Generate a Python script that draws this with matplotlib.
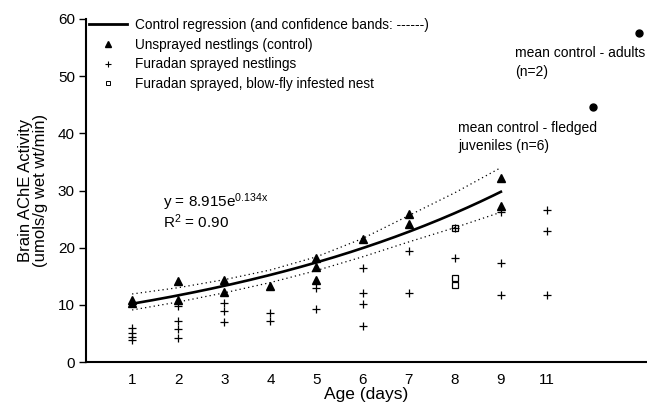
import numpy as np
import matplotlib
matplotlib.use("Agg")
import matplotlib.pyplot as plt
from matplotlib.lines import Line2D

plt.rcParams['font.family'] = ['Liberation Sans', 'DejaVu Sans']
plt.rcParams['mathtext.fontset'] = 'custom'
plt.rcParams['mathtext.rm'] = 'Liberation Sans'
plt.rcParams['mathtext.it'] = 'Liberation Sans'

# ---- data ----
tick_pos = [1, 2, 3, 4, 5, 6, 7, 8, 9, 10]
tick_labels = ['1', '2', '3', '4', '5', '6', '7', '8', '9', '11']

control_days = [1, 1, 2, 2, 3, 3, 4, 5, 5, 5, 6, 7, 7, 9, 9]
control_vals = [10.9, 10.4, 14.2, 10.8, 14.3, 12.2, 13.3, 18.2, 16.6, 14.3, 21.5, 25.9, 24.1, 32.2, 27.3]

furadan_days = [1, 1, 1, 1, 2, 2, 2, 2, 3, 3, 3, 4, 4, 5, 5, 6, 6, 6, 6, 7, 7, 8, 8, 9, 9, 9, 10, 10, 10]
furadan_vals = [5.9, 5.0, 4.3, 3.9, 9.8, 7.2, 5.8, 4.2, 10.3, 8.9, 7.0, 8.6, 7.2, 12.9, 9.3,
                16.4, 12.1, 10.1, 6.3, 19.4, 12.1, 23.4, 18.2, 26.2, 17.3, 11.7, 26.6, 22.9, 11.7]

blowfly_days = [8, 8, 8]
blowfly_vals = [23.4, 14.7, 13.5]

band_days = [1, 2, 3, 4, 5, 6, 7, 8, 9]
band_upper = [11.9, 13.0, 14.4, 16.1, 18.4, 21.6, 25.6, 29.6, 34.0]
band_lower = [9.1, 10.5, 12.1, 13.9, 16.0, 18.4, 21.0, 23.5, 26.2]

reg_a, reg_b = 8.915, 0.134
reg_range = (1, 9)

juvenile_pos, juvenile_val = 11, 44.6
adult_pos, adult_val = 12, 57.5

# ---- figure ----
fig = plt.figure(figsize=(6.47, 4.07), dpi=100)
ax = fig.add_axes([86/647, 1 - 362/407, (647-86)/647, (362-19)/407])

xs = np.linspace(reg_range[0], reg_range[1], 200)
ax.plot(xs, reg_a * np.exp(reg_b * xs), color='black', lw=1.9)
ax.plot(band_days, band_upper, color='black', lw=0.9, ls=(0, (1, 2.5)))
ax.plot(band_days, band_lower, color='black', lw=0.9, ls=(0, (1, 2.5)))

ax.plot(control_days, control_vals, ls='none', marker='^', ms=6, color='black')
ax.plot(furadan_days, furadan_vals, ls='none', marker='+', ms=6, mew=0.9, color='black')
ax.plot(blowfly_days, blowfly_vals, ls='none', marker='s', ms=5, mfc='none', mec='black', mew=0.9)
ax.plot([juvenile_pos, adult_pos], [juvenile_val, adult_val], ls='none', marker='o', ms=5,
        color='black', clip_on=False)

ax.set_xlim(0, 12.17)
ax.set_ylim(0, 60)
ax.set_xticks(tick_pos)
ax.set_xticklabels(tick_labels)
ax.set_yticks([0, 10, 20, 30, 40, 50, 60])
ax.tick_params(axis='x', length=0, pad=8, labelsize=11)
ax.tick_params(axis='y', direction='out', length=5, width=1, pad=3, labelsize=11)
for s in ['top', 'right']:
    ax.spines[s].set_visible(False)
ax.spines['left'].set_linewidth(1.5)
ax.spines['bottom'].set_linewidth(1.5)

ax.set_xlabel('Age (days)', fontsize=12.5, labelpad=0)
ax.set_ylabel('Brain AChE Activity\n(umols/g wet wt/min)', fontsize=12, labelpad=7,
              linespacing=1.05)

# annotations
ax.text(1.67, 28.0, r'y = 8.915e$^{\mathrm{0.134x}}$', fontsize=11, va='center', ha='left')
ax.text(1.67, 24.6, r'R$^{2}$ = 0.90', fontsize=11, va='center', ha='left')
ax.text(8.07, 39.4, 'mean control - fledged\njuveniles (n=6)', fontsize=10, va='center', ha='left',
        linespacing=1.4)
ax.text(9.3, 52.4, 'mean control - adults\n(n=2)', fontsize=10, va='center', ha='left',
        linespacing=1.4)

handles = [
    Line2D([], [], color='black', lw=2.0),
    Line2D([], [], ls='none', marker='^', ms=5, color='black'),
    Line2D([], [], ls='none', marker='+', ms=5, mew=0.8, color='black'),
    Line2D([], [], ls='none', marker='s', ms=3.5, mfc='none', mec='black', mew=0.7),
]
labels = ['Control regression (and confidence bands: ------)',
          'Unsprayed nestlings (control)',
          'Furadan sprayed nestlings',
          'Furadan sprayed, blow-fly infested nest']
leg = ax.legend(handles, labels, loc='upper left', bbox_to_anchor=(89/647, 1 - 18/407),
                bbox_transform=fig.transFigure, frameon=False, fontsize=9.8,
                handlelength=2.8, handletextpad=0.6, labelspacing=0.42,
                borderpad=0, borderaxespad=0)

fig.savefig('out.png', dpi=100)
